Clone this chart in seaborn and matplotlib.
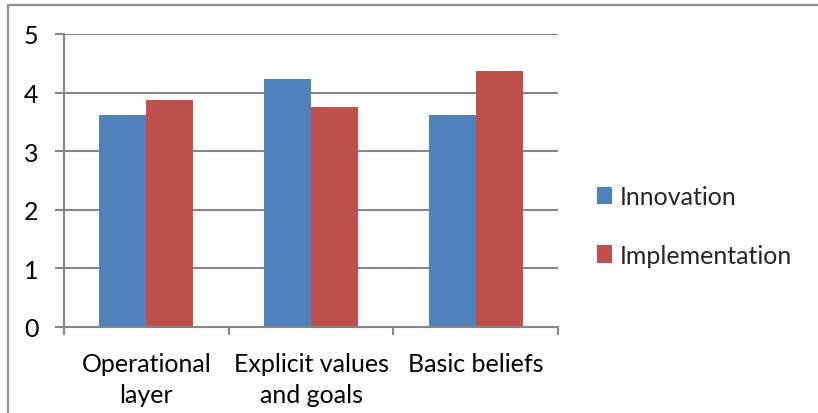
import matplotlib
matplotlib.use("Agg")
import matplotlib.pyplot as plt
from matplotlib.lines import Line2D
from matplotlib.patches import Patch
import seaborn as sns
import pandas as pd

categories = ["Operational\nlayer", "Explicit values\nand goals", "Basic beliefs"]
series = ["Innovation", "Implementation"]
innovation = [3.62, 4.24, 3.62]
implementation = [3.87, 3.75, 4.37]
y_ticks = [0, 1, 2, 3, 4, 5]
colors = ["#4F81BD", "#C0504D"]

df = pd.DataFrame({
    "category": categories * 2,
    "series": [series[0]] * 3 + [series[1]] * 3,
    "value": innovation + implementation,
})

sns.set_theme(style="white")
plt.rcParams["font.family"] = ["Lato", "DejaVu Sans"]

W, H = 818, 414
fig = plt.figure(figsize=(W / 100, H / 100), dpi=100)
ax = fig.add_axes([64 / W, 1 - 328 / H, (558 - 64) / W, (328 - 35) / H])

sns.barplot(data=df, x="category", y="value", hue="series", order=categories,
            hue_order=series, palette=colors, saturation=1, width=0.57, gap=0,
            ax=ax, legend=False, edgecolor="none")

grid_c = "#868686"
ax.set_ylim(0, 5)
ax.set_xlim(-0.5, 2.5)
ax.set_yticks(y_ticks)
ax.set_yticklabels([str(v) for v in y_ticks])
ax.yaxis.grid(True, color=grid_c, linewidth=1.5)
ax.set_axisbelow(True)
ax.set_xlabel("")
ax.set_ylabel("")

for side in ["top", "right"]:
    ax.spines[side].set_visible(False)
for side in ["left", "bottom"]:
    ax.spines[side].set_color(grid_c)
    ax.spines[side].set_linewidth(1.5)

ax.tick_params(axis="y", left=True, length=6.5, width=1.5, color=grid_c,
               labelsize=18, pad=12, labelcolor="black")
ax.set_xticks([0, 1, 2])
ax.set_xticklabels(categories, fontsize=18, linespacing=1.4)
ax.tick_params(axis="x", which="major", length=0, pad=18, labelcolor="black")
ax.set_xticks([-0.5, 0.5, 1.5, 2.5], minor=True)
ax.tick_params(axis="x", which="minor", bottom=True, length=6, width=1.5, color=grid_c)

handles = [Patch(facecolor=c, edgecolor="none", label=s) for c, s in zip(colors, series)]
fig.legend(handles=handles, loc="upper left", bbox_to_anchor=(597 / W, 1 - 186 / H),
           frameon=False, fontsize=18, handlelength=0.6, handleheight=0.7,
           handletextpad=0.3, labelspacing=1.43, borderpad=0, borderaxespad=0)

# outer chart frame (top and left edges)
fig.add_artist(Line2D([7.5 / W, 1], [1 - 5.5 / H, 1 - 5.5 / H], color="#8C8C8C",
                      linewidth=1.6, transform=fig.transFigure))
fig.add_artist(Line2D([7.5 / W, 7.5 / W], [0, 1 - 5.5 / H], color="#8C8C8C",
                      linewidth=1.6, transform=fig.transFigure))

fig.savefig("out.png", dpi=100)
